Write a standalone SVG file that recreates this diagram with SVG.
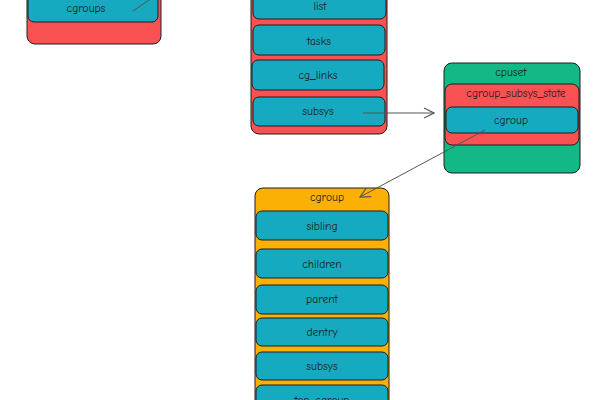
<svg xmlns="http://www.w3.org/2000/svg" width="600" height="400" viewBox="0 0 600 400">
<defs>
<style>
.red{fill:#fa5252;stroke:#1e1e1e;stroke-width:1}
.teal{fill:#15aabf;stroke:#1e1e1e;stroke-width:1}
.green{fill:#12b886;stroke:#1e1e1e;stroke-width:1}
.orange{fill:#fab005;stroke:#1e1e1e;stroke-width:1}
text{font-family:"Comic Neue","Liberation Sans",sans-serif;font-size:11.5px;fill:#1e1e1e;text-anchor:middle;dominant-baseline:central}
.conn{stroke:#555;stroke-width:1;fill:none}
</style>
<marker id="ah" viewBox="0 0 12 12" refX="11" refY="6" markerWidth="12" markerHeight="12" markerUnits="userSpaceOnUse" orient="auto">
<path d="M1,1 L11,6 L1,11" fill="none" stroke="#555" stroke-width="1.2"/>
</marker>
</defs>
<rect width="600" height="400" fill="#ffffff"/>

<g id="node-cgroups-parent">
<rect class="red" x="27" y="-20" width="134" height="64" rx="8"/>
<g id="node-cgroups"><rect class="teal" x="28" y="-20" width="130" height="42" rx="6"/><text x="86" y="8">cgroups</text></g>
</g>

<g id="node-css-set">
<rect class="red" x="251" y="-20" width="136" height="154" rx="8"/>
<g id="node-list"><rect class="teal" x="253" y="-12" width="133" height="31" rx="6"/><text x="320" y="6">list</text></g>
<g id="node-tasks"><rect class="teal" x="253" y="25" width="132" height="30" rx="6"/><text x="319" y="41">tasks</text></g>
<g id="node-cg-links"><rect class="teal" x="252" y="60" width="132" height="30" rx="6"/><text x="318" y="75">cg_links</text></g>
<g id="node-subsys-a"><rect class="teal" x="253" y="97" width="132" height="29" rx="6"/><text x="318" y="111">subsys</text></g>
</g>

<g id="node-cpuset">
<rect class="green" x="444" y="63" width="136" height="110" rx="8"/>
<text x="511" y="72">cpuset</text>
<g id="node-css"><rect class="red" x="445" y="84" width="134" height="61" rx="7"/><text x="516" y="93">cgroup_subsys_state</text></g>
<g id="node-cpuset-cgroup"><rect class="teal" x="446" y="107" width="132" height="26" rx="6"/><text x="511" y="120">cgroup</text></g>
</g>

<g id="node-cgroup">
<rect class="orange" x="255" y="188" width="134" height="230" rx="8"/>
<text x="327" y="197">cgroup</text>
<g id="node-sibling"><rect class="teal" x="256" y="211" width="132" height="29" rx="6"/><text x="322" y="226">sibling</text></g>
<g id="node-children"><rect class="teal" x="256" y="249" width="132" height="29" rx="6"/><text x="322" y="264">children</text></g>
<g id="node-parent"><rect class="teal" x="256" y="285" width="132" height="29" rx="6"/><text x="322" y="299">parent</text></g>
<g id="node-dentry"><rect class="teal" x="256" y="318" width="132" height="28" rx="6"/><text x="322" y="332">dentry</text></g>
<g id="node-subsys-b"><rect class="teal" x="256" y="352" width="132" height="28" rx="6"/><text x="322" y="366">subsys</text></g>
<g id="node-top-cgroup"><rect class="teal" x="256" y="385" width="132" height="30" rx="6"/><text x="322" y="400">top_cgroup</text></g>
</g>

<g id="connectors">
<path class="conn" d="M133,11 L152,-2"/>
<path class="conn" d="M363,113 L434,113" marker-end="url(#ah)"/>
<path class="conn" d="M485,130 L360,197" marker-end="url(#ah)"/>
</g>
</svg>
